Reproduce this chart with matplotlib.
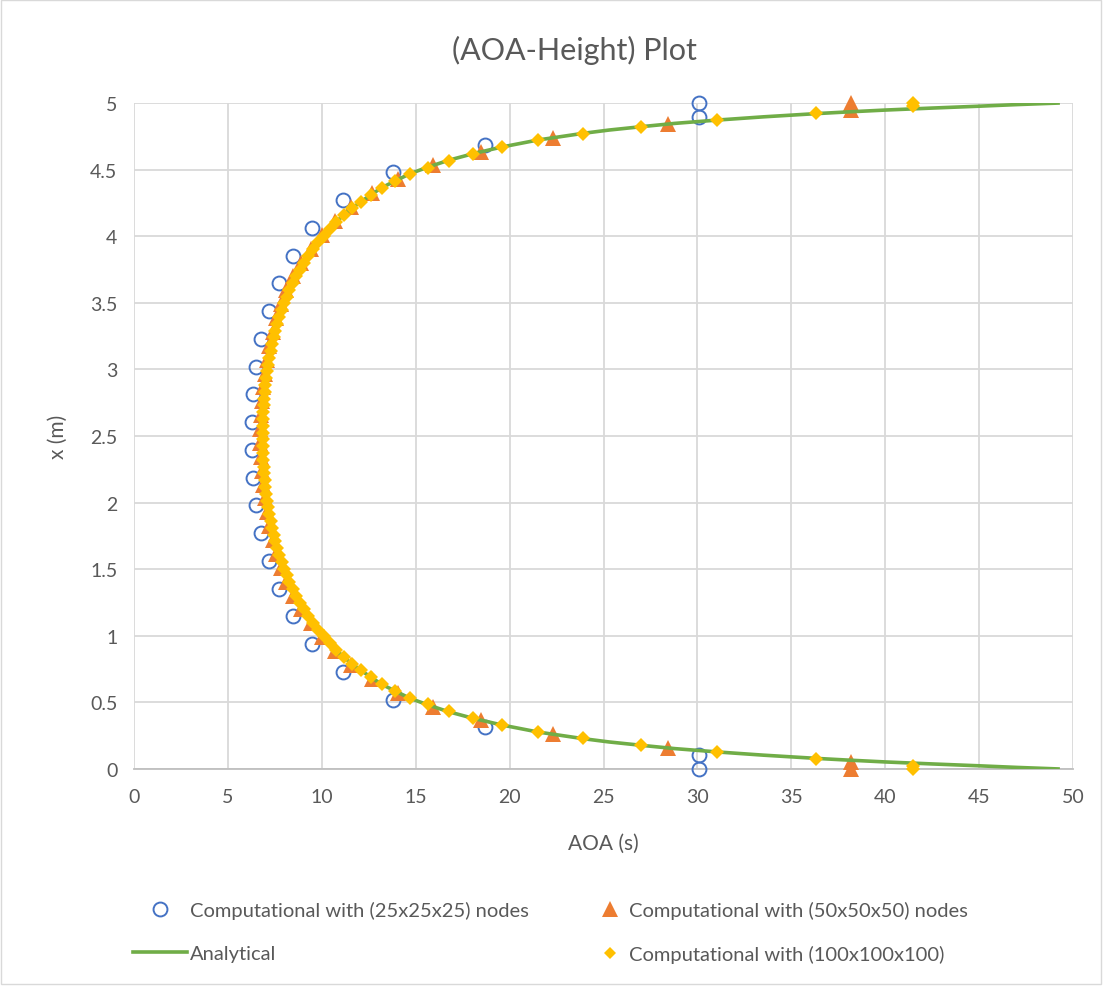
import matplotlib
matplotlib.use("Agg")
import matplotlib.pyplot as plt
from matplotlib.lines import Line2D
from matplotlib.patches import Rectangle

plt.rcParams['font.family'] = ['Lato', 'DejaVu Sans']

# ---------------- data ----------------
# Computational with (25x25x25) nodes
y_25 = [0, 0.1042, 0.3125, 0.5208, 0.7292, 0.9375, 1.1458, 1.3542, 1.5625, 1.7708,
        1.9792, 2.1875, 2.3958, 2.6042, 2.8125, 3.0208, 3.2292, 3.4375, 3.6458,
        3.8542, 4.0625, 4.2708, 4.4792, 4.6875, 4.8958, 5.0]
aoa_25 = [30.1, 30.1, 18.7, 13.8, 11.13, 9.5, 8.45, 7.7, 7.17, 6.77, 6.52, 6.34, 6.29,
          6.29, 6.34, 6.52, 6.77, 7.17, 7.7, 8.45, 9.5, 11.13, 13.8, 18.7, 30.1, 30.1]

# Computational with (50x50x50) nodes
y_50 = [0, 0.0521, 0.1563, 0.2604, 0.3646, 0.4688, 0.5729, 0.6771, 0.7813, 0.8854,
        0.9896, 1.0938, 1.1979, 1.3021, 1.4063, 1.5104, 1.6146, 1.7188, 1.8229,
        1.9271, 2.0313, 2.1354, 2.2396, 2.3438, 2.4479,
        2.5521, 2.6563, 2.7604, 2.8646, 2.9688, 3.0729, 3.1771, 3.2813, 3.3854,
        3.4896, 3.5938, 3.6979, 3.8021, 3.9063, 4.0104, 4.1146, 4.2188, 4.3229,
        4.4271, 4.5313, 4.6354, 4.7396, 4.8438, 4.9479, 5.0]
aoa_50 = [38.2, 38.2, 28.45, 22.3, 18.5, 15.9, 14.05, 12.65, 11.55, 10.7, 10.0, 9.4,
          8.9, 8.48, 8.12, 7.83, 7.58, 7.38, 7.21, 7.07, 6.95, 6.86, 6.79, 6.74, 6.72,
          6.72, 6.74, 6.79, 6.86, 6.95, 7.07, 7.21, 7.38, 7.58, 7.83, 8.12, 8.48, 8.9,
          9.4, 10.0, 10.7, 11.55, 12.65, 14.05, 15.9, 18.5, 22.3, 28.45, 38.2, 38.2]

# Computational with (100x100x100)
y_100 = [0, 0.0255, 0.0765, 0.1276, 0.1786, 0.2296, 0.2806, 0.3316, 0.3827, 0.4337,
         0.4847, 0.5357, 0.5867, 0.6378, 0.6888, 0.7398, 0.7908, 0.8418, 0.8929,
         0.9439, 0.9949, 1.0459, 1.0969, 1.1480, 1.1990, 1.2500, 1.3010, 1.3520,
         1.4031, 1.4541, 1.5051, 1.5561, 1.6071, 1.6582, 1.7092, 1.7602, 1.8112,
         1.8622, 1.9133, 1.9643, 2.0153, 2.0663, 2.1173, 2.1684, 2.2194, 2.2704,
         2.3214, 2.3724, 2.4235, 2.4745,
         2.5255, 2.5765, 2.6276, 2.6786, 2.7296, 2.7806, 2.8316, 2.8827, 2.9337,
         2.9847, 3.0357, 3.0867, 3.1378, 3.1888, 3.2398, 3.2908, 3.3418, 3.3929,
         3.4439, 3.4949, 3.5459, 3.5969, 3.6480, 3.6990, 3.7500, 3.8010, 3.8520,
         3.9031, 3.9541, 4.0051, 4.0561, 4.1071, 4.1582, 4.2092, 4.2602, 4.3112,
         4.3622, 4.4133, 4.4643, 4.5153, 4.5663, 4.6173, 4.6684, 4.7194, 4.7704,
         4.8214, 4.8724, 4.9235, 4.9745, 5.0]
aoa_100 = [41.5, 41.5, 36.3, 31.07, 27.0, 23.9, 21.5, 19.6, 18.07, 16.75, 15.68, 14.71,
           13.91, 13.2, 12.6, 12.07, 11.6, 11.17, 10.78, 10.42, 10.1, 9.8, 9.52, 9.27,
           9.04, 8.83, 8.63, 8.45, 8.28, 8.13, 7.99, 7.86, 7.74, 7.63, 7.53, 7.44,
           7.36, 7.28, 7.21, 7.15, 7.09, 7.04, 7.0, 6.96, 6.93, 6.91, 6.89, 6.87,
           6.86, 6.86,
           6.86, 6.86, 6.87, 6.89, 6.91, 6.93, 6.96, 7.0, 7.04, 7.09, 7.15, 7.21,
           7.28, 7.36, 7.44, 7.53, 7.63, 7.74, 7.86, 7.99, 8.13, 8.28, 8.45, 8.63,
           8.83, 9.04, 9.27, 9.52, 9.8, 10.1, 10.42, 10.78, 11.17, 11.6, 12.07, 12.6,
           13.2, 13.91, 14.71, 15.68, 16.75, 18.07, 19.6, 21.5, 23.9, 27.0, 31.07,
           36.3, 41.5, 41.5]

# Analytical
y_an = [0, 0.012, 0.024, 0.038, 0.053, 0.067, 0.080, 0.104, 0.128, 0.153, 0.178,
        0.203, 0.228, 0.278, 0.33, 0.38, 0.43, 0.48, 0.53, 0.585, 0.635, 0.7, 0.8,
        0.9, 1.0, 1.1, 1.2, 1.3, 1.4, 1.5, 1.6, 1.7, 1.8, 1.9, 2.0, 2.1, 2.2, 2.3,
        2.4, 2.5,
        2.6, 2.7, 2.8, 2.9, 3.0, 3.1, 3.2, 3.3, 3.4, 3.5, 3.6, 3.7, 3.8, 3.9, 4.0,
        4.1, 4.2, 4.3, 4.365, 4.415, 4.47, 4.52, 4.57, 4.62, 4.67, 4.722, 4.772,
        4.797, 4.822, 4.847, 4.872, 4.896, 4.92, 4.933, 4.947, 4.962, 4.976, 4.988,
        5.0]
aoa_an = [49.3, 47.0, 45.0, 42.5, 40.0, 38.0, 36.3, 33.5, 31.07, 28.8, 27.0, 25.3,
          23.9, 21.5, 19.6, 18.07, 16.75, 15.68, 14.71, 13.91, 13.2, 12.5, 11.5, 10.7,
          10.0, 9.45, 9.0, 8.6, 8.27, 7.98, 7.73, 7.52, 7.35, 7.2, 7.08, 6.99, 6.92,
          6.88, 6.86, 6.85,
          6.86, 6.88, 6.92, 6.99, 7.08, 7.2, 7.35, 7.52, 7.73, 7.98, 8.27, 8.6, 9.0,
          9.45, 10.0, 10.7, 11.5, 12.5, 13.2, 13.91, 14.71, 15.68, 16.75, 18.07, 19.6,
          21.5, 23.9, 25.3, 27.0, 28.8, 31.07, 33.5, 36.3, 38.0, 40.0, 42.5, 45.0,
          47.0, 49.3]

x_ticks = [0, 5, 10, 15, 20, 25, 30, 35, 40, 45, 50]
y_ticks = [0, 0.5, 1, 1.5, 2, 2.5, 3, 3.5, 4, 4.5, 5]
y_tick_labels = ['0', '0.5', '1', '1.5', '2', '2.5', '3', '3.5', '4', '4.5', '5']

# ---------------- figure ----------------
W, H = 1104, 987
fig = plt.figure(figsize=(W / 100, H / 100), dpi=100)
fig.patches.append(Rectangle((0.001, 0.002), 0.996, 0.997, transform=fig.transFigure,
                             fill=False, edgecolor='#d9d9d9', linewidth=1.0))

left, right, bottom, top = 134 / W, 1073 / W, 1 - 770 / H, 1 - 104 / H
ax = fig.add_axes([left, bottom, right - left, top - bottom])

text_color = '#595959'
grid_color = '#d9d9d9'

c_blue, c_orange, c_green, c_yellow = '#4472C4', '#ED7D31', '#70AD47', '#FFC000'

ax.plot(aoa_25, y_25, linestyle='none', marker='o', markersize=10,
        markerfacecolor='none', markeredgecolor=c_blue, markeredgewidth=1.4,
        zorder=3, clip_on=False)
ax.plot(aoa_50, y_50, linestyle='none', marker='^', markersize=12,
        color=c_orange, markeredgewidth=0, zorder=4, clip_on=False)
ax.plot(aoa_an, y_an, color=c_green, linewidth=2.6, zorder=5, solid_capstyle='butt')
ax.plot(aoa_100, y_100, linestyle='none', marker='D', markersize=7,
        color=c_yellow, markeredgewidth=0, zorder=6, clip_on=False)

ax.set_xlim(0, 50)
ax.set_ylim(0, 5)
ax.set_xticks(x_ticks)
ax.set_yticks(y_ticks)
ax.set_yticklabels(y_tick_labels)
ax.grid(True, color=grid_color, linewidth=1.3, zorder=0)
ax.set_axisbelow(True)
for s in ['top', 'right', 'left']:
    ax.spines[s].set_visible(False)
ax.spines['bottom'].set_color('#bfbfbf')
ax.spines['bottom'].set_linewidth(1.3)
ax.tick_params(axis='both', length=0, labelsize=14, labelcolor=text_color)
ax.tick_params(axis='x', pad=14)
ax.tick_params(axis='y', pad=12)

ax.set_xlabel('AOA (s)', fontsize=15, color=text_color, labelpad=20)
ax.set_ylabel('x (m)', fontsize=15, color=text_color, labelpad=16)

fig.text(574 / W, 1 - 50 / H, '(AOA-Height) Plot', ha='center',
         va='center', fontsize=22, color=text_color)

# ---------------- legend ----------------
h25 = Line2D([], [], linestyle='none', marker='o', markersize=10,
             markerfacecolor='none', markeredgecolor=c_blue, markeredgewidth=1.4)
h50 = Line2D([], [], linestyle='none', marker='^', markersize=12, color=c_orange,
             markeredgewidth=0)
han = Line2D([], [], color=c_green, linewidth=2.6)
h100 = Line2D([], [], linestyle='none', marker='D', markersize=6.5, color=c_yellow,
              markeredgewidth=0)

leg_kw = dict(loc='upper left', frameon=False, fontsize=14.5, labelspacing=1.3,
              labelcolor=text_color, borderaxespad=0, borderpad=0)
leg1 = fig.legend([h25, han], ['Computational with (25x25x25) nodes', 'Analytical'],
                  bbox_to_anchor=(133 / W, 1 - 902 / H), handlelength=2.7,
                  handletextpad=0.15, **leg_kw)
leg2 = fig.legend([h50, h100], ['Computational with (50x50x50) nodes',
                                'Computational with (100x100x100)'],
                  bbox_to_anchor=(600 / W, 1 - 902 / H), handlelength=1.0,
                  handletextpad=0.45, **leg_kw)

fig.savefig('out.png', dpi=100)
